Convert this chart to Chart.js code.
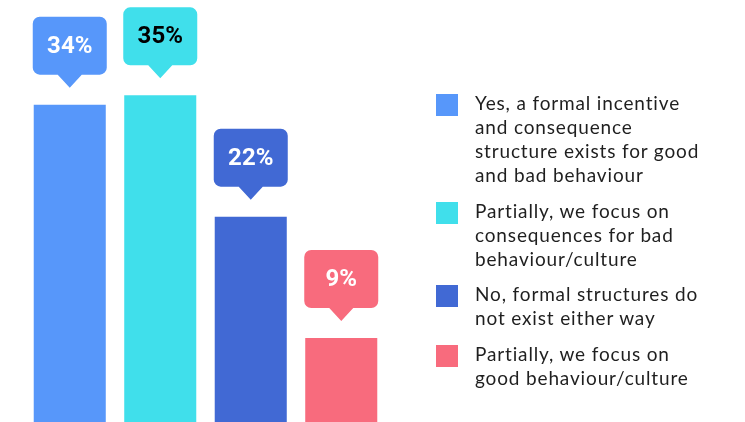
<!DOCTYPE html>
<html>
<head>
<meta charset="utf-8">
<script src="https://cdn.jsdelivr.net/npm/chart.js@4.4.0/dist/chart.umd.min.js"></script>
<style>
  html, body { margin: 0; padding: 0; background: #fff; }
  #wrap { position: relative; width: 745px; height: 422px; overflow: hidden; }
  #chart { position: absolute; left: 0; top: 0; }
  .legend-item { position: absolute; left: 436px; font-family: Lato, sans-serif; font-size: 19px; letter-spacing: 0.85px; line-height: 24px; color: #1f1f1f; white-space: nowrap; }
  .legend-item .box { position: absolute; left: 0; top: 3px; width: 22px; height: 22px; }
  .legend-item .txt { position: absolute; left: 39px; top: 0; }
</style>
</head>
<body>
<div id="wrap">
  <canvas id="chart" width="745" height="422"></canvas>
  <div id="legend"></div>
</div>
<script>
// answers and their shares (%)
const answers = [
  ['Yes, a formal incentive', 'and consequence', 'structure exists for good', 'and bad behaviour'],
  ['Partially, we focus on', 'consequences for bad', 'behaviour/culture'],
  ['No, formal structures do', 'not exist either way'],
  ['Partially, we focus on', 'good behaviour/culture']
];
const shares = [34, 35, 22, 9];
const barColors = ['#5797fa', '#40dfeb', '#4169d4', '#f86b7d'];
const valueTextColors = ['#ffffff', '#000000', '#ffffff', '#ffffff'];

// rounded speech bubble with a pointer at the bottom
function bubblePath(ctx, cx, bottom, w, h, r, tipW, tipH) {
  const left = cx - w / 2, right = cx + w / 2, top = bottom - h;
  ctx.beginPath();
  ctx.moveTo(left + r, top);
  ctx.lineTo(right - r, top);
  ctx.arcTo(right, top, right, top + r, r);
  ctx.lineTo(right, bottom - r);
  ctx.arcTo(right, bottom, right - r, bottom, r);
  ctx.lineTo(cx + tipW / 2, bottom);
  ctx.lineTo(cx, bottom + tipH);
  ctx.lineTo(cx - tipW / 2, bottom);
  ctx.lineTo(left + r, bottom);
  ctx.arcTo(left, bottom, left, bottom - r, r);
  ctx.lineTo(left, top + r);
  ctx.arcTo(left, top, left + r, top, r);
  ctx.closePath();
}

const valueBubbles = {
  id: 'valueBubbles',
  afterDatasetsDraw(chart) {
    const ctx = chart.ctx;
    const meta = chart.getDatasetMeta(0);
    meta.data.forEach((bar, i) => {
      const bottom = bar.y - 30;
      const h = 58;
      ctx.save();
      bubblePath(ctx, bar.x, bottom, 74, h, 7, 24, 13);
      ctx.fillStyle = barColors[i];
      ctx.fill();
      ctx.fillStyle = valueTextColors[i];
      ctx.font = 'bold 24px Roboto, sans-serif';
      ctx.textAlign = 'center';
      ctx.textBaseline = 'middle';
      ctx.fillText(shares[i] + '%', bar.x, bottom - h / 2 + 1);
      ctx.restore();
    });
  }
};

new Chart(document.getElementById('chart'), {
  type: 'bar',
  data: {
    labels: answers.map(a => a.join(' ')),
    datasets: [{
      data: shares,
      backgroundColor: barColors,
      borderWidth: 0,
      barPercentage: 1,
      categoryPercentage: 0.796
    }]
  },
  options: {
    responsive: false,
    animation: false,
    layout: { padding: { left: 24.5, right: 358.5, top: 2, bottom: 0 } },
    plugins: { legend: { display: false }, tooltip: { enabled: false } },
    scales: {
      x: { display: false },
      y: { display: false, min: 0, max: 45 }
    }
  },
  plugins: [valueBubbles]
});

// legend on the right, one block per answer
const legendBox = document.getElementById('legend');
let itemTop = 91;
answers.forEach((lines, i) => {
  const item = document.createElement('div');
  item.className = 'legend-item';
  item.style.top = itemTop + 'px';
  item.innerHTML = `<div class="box" style="background:${barColors[i]}"></div>` +
    `<div class="txt">${lines.join('<br>')}</div>`;
  legendBox.appendChild(item);
  itemTop += lines.length * 24 + 11.5;
});
</script>
</body>
</html>
